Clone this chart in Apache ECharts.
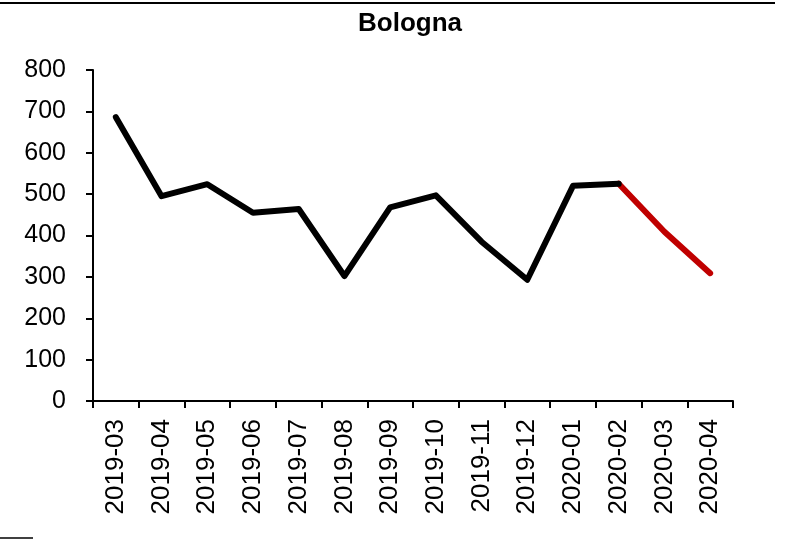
<!DOCTYPE html>
<html>
<head>
<meta charset="utf-8">
<script src="https://cdn.jsdelivr.net/npm/echarts@6/dist/echarts.min.js"></script>
<style>html,body{margin:0;padding:0;background:#fff;}#c{width:787px;height:541px;}</style>
</head>
<body>
<div id="c"></div>
<script>
var categories = ['2019-03','2019-04','2019-05','2019-06','2019-07','2019-08','2019-09','2019-10','2019-11','2019-12','2020-01','2020-02','2020-03','2020-04'];
var values = [686, 495, 524, 455, 464, 302, 468, 497, 385, 293, 520, 525, 409, 309];
var splitIndex = 11; // last black point (2020-02)
var yTicks = [0, 800, 100]; // min, max, interval

var blackData = values.map(function(v, i){ return i <= splitIndex ? v : null; });
var redData = values.map(function(v, i){ return i >= splitIndex ? v : null; });

var chart = echarts.init(document.getElementById('c'), null, {renderer: 'canvas'});
chart.setOption({
  animation: false,
  backgroundColor: '#fff',
  title: {
    text: 'Bologna',
    left: 405, top: 6, textAlign: 'center',
    textStyle: {fontFamily: 'Liberation Sans, Arial', fontWeight: 'bold', fontSize: 26, color: '#000'}
  },
  grid: {left: 93, right: 54, top: 70, bottom: 140, containLabel: false},
  xAxis: {
    type: 'category',
    data: categories,
    boundaryGap: true,
    axisLine: {lineStyle: {color: '#000', width: 2}},
    axisTick: {show: true, length: 7, inside: false, alignWithLabel: false, lineStyle: {color: '#000', width: 2}},
    axisLabel: {rotate: 90, margin: 18, interval: 0, color: '#000', fontSize: 26, fontFamily: 'Liberation Sans, Arial'},
    splitLine: {show: false}
  },
  yAxis: {
    type: 'value',
    min: yTicks[0], max: yTicks[1], interval: yTicks[2],
    axisLine: {show: true, lineStyle: {color: '#000', width: 2}},
    axisTick: {show: true, length: 7, lineStyle: {color: '#000', width: 2}},
    axisLabel: {margin: 27, color: '#000', fontSize: 25, fontFamily: 'Liberation Sans, Arial'},
    splitLine: {show: false}
  },
  series: [
    {type: 'line', data: redData, showSymbol: false, symbol: 'none', connectNulls: false,
     lineStyle: {color: '#c00000', width: 6, cap: 'round', join: 'round'}, z: 2},
    {type: 'line', data: blackData, showSymbol: false, symbol: 'none', connectNulls: false,
     lineStyle: {color: '#000000', width: 6, cap: 'round', join: 'round'}, z: 3}
  ],
  graphic: [
    {type: 'line', shape: {x1: 0, y1: 3, x2: 775, y2: 3}, style: {stroke: '#000', lineWidth: 2}, silent: true},
    {type: 'line', shape: {x1: 0, y1: 538, x2: 33, y2: 538}, style: {stroke: '#000', lineWidth: 1.5}, silent: true}
  ]
});
</script>
</body>
</html>
